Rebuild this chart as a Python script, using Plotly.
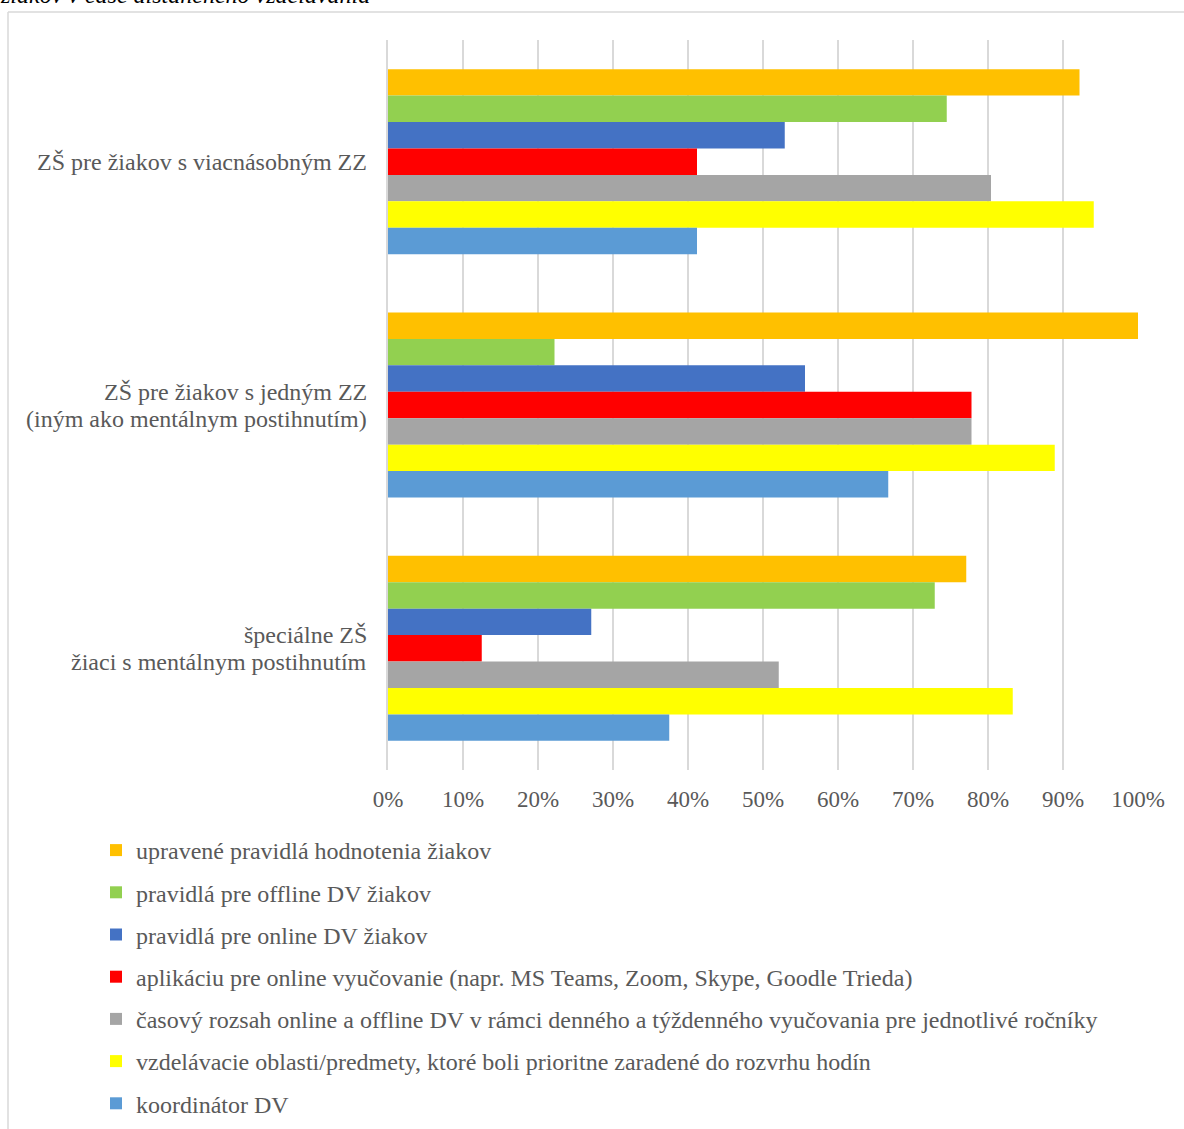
import plotly.graph_objects as go

categories = [
    "ZŠ pre žiakov s viacnásobným ZZ",
    "ZŠ pre žiakov s jedným ZZ<br>(iným ako mentálnym postihnutím)",
    "špeciálne ZŠ<br>žiaci s mentálnym postihnutím",
]

series_names = [
    "upravené pravidlá hodnotenia žiakov",
    "pravidlá pre offline DV žiakov",
    "pravidlá pre online DV žiakov",
    "aplikáciu pre online vyučovanie (napr. MS Teams, Zoom, Skype, Goodle Trieda)",
    "časový rozsah online a offline DV v rámci denného a týždenného vyučovania pre jednotlivé ročníky",
    "vzdelávacie oblasti/predmety, ktoré boli prioritne zaradené do rozvrhu hodín",
    "koordinátor DV",
]

# values per series, in category order (top group first)
hodnotenie = [0.922, 1.000, 0.771]
offline_dv = [0.745, 0.222, 0.729]
online_dv = [0.529, 0.556, 0.271]
aplikacia = [0.412, 0.778, 0.125]
casovy_rozsah = [0.804, 0.778, 0.521]
predmety = [0.941, 0.889, 0.833]
koordinator = [0.412, 0.667, 0.375]

series_values = [hodnotenie, offline_dv, online_dv, aplikacia, casovy_rozsah, predmety, koordinator]
colors = ["#FFC000", "#92D050", "#4472C4", "#FF0000", "#A5A5A5", "#FFFF00", "#5B9BD5"]

tick_vals = [0, 0.1, 0.2, 0.3, 0.4, 0.5, 0.6, 0.7, 0.8, 0.9, 1.0]
tick_text = ["0%", "10%", "20%", "30%", "40%", "50%", "60%", "70%", "80%", "90%", "100%"]

FONT = "Liberation Serif"
GREY = "#595959"

W, H = 1184, 1129
L, R, T, B = 388, 46, 40, 359
pw = W - L - R
ph = H - T - B

def px_x(p):
    return (p - L) / pw

def px_y(p):
    return (H - B - p) / ph

fig = go.Figure()
for name, vals, col in zip(series_names, series_values, colors):
    fig.add_trace(go.Bar(
        y=categories, x=vals, name=name, orientation="h",
        marker=dict(color=col, line=dict(width=0)),
        legendgroup=name,
        hoverinfo="x+name",
    ))

LINE_GAP = 27
for c in categories:
    lines = c.split("<br>")
    n = len(lines)
    for i, ln in enumerate(lines):
        shift = ((n - 1) / 2 - i) * LINE_GAP
        fig.add_annotation(
            x=px_x(369), xref="paper", y=c, yref="y", yshift=shift,
            text=ln, showarrow=False, xanchor="right", align="center",
            font=dict(family=FONT, size=24, color=GREY),
        )

# cut-off caption at the top
fig.add_annotation(
    x=px_x(-2), xref="paper", y=px_y(10), yref="paper",
    text="<i>žiakov v čase dištančného vzdelávania</i>", showarrow=False,
    xanchor="left", yanchor="bottom",
    font=dict(family=FONT, size=24, color="#000000"),
)

# outer frame (top and left edges)
fig.add_shape(type="line", xref="paper", yref="paper",
              x0=px_x(8), x1=px_x(1190), y0=px_y(12), y1=px_y(12),
              line=dict(color="#D9D9D9", width=1.5))
fig.add_shape(type="line", xref="paper", yref="paper",
              x0=px_x(8), x1=px_x(8), y0=px_y(12), y1=px_y(1135),
              line=dict(color="#D9D9D9", width=1.5))

fig.update_layout(
    width=W, height=H,
    margin=dict(l=L, r=R, t=T, b=B, autoexpand=False),
    plot_bgcolor="white", paper_bgcolor="white",
    barmode="group", bargap=0.24, bargroupgap=0,
    font=dict(family=FONT, size=24, color=GREY),
    xaxis=dict(
        range=[0, 1], tickvals=tick_vals, ticktext=tick_text,
        showgrid=True, gridcolor="#D9D9D9", gridwidth=1.5,
        zeroline=False, showline=False, ticks="",
        ticklabelstandoff=13,
        tickfont=dict(family=FONT, size=23, color=GREY),
        fixedrange=True,
    ),
    yaxis=dict(
        autorange="reversed", showticklabels=False, showgrid=False,
        showline=True, linecolor="#D9D9D9", linewidth=1.5,
        ticks="", fixedrange=True,
    ),
    showlegend=True,
    legend=dict(
        x=px_x(96), xanchor="left", y=px_y(828), yanchor="top",
        orientation="v", traceorder="grouped", tracegroupgap=8,
        font=dict(family=FONT, size=24, color=GREY),
        bgcolor="rgba(0,0,0,0)",
    ),
)

fig.write_html("out.html", config={"displayModeBar": False},
               post_script="document.body.style.margin='0px';")
